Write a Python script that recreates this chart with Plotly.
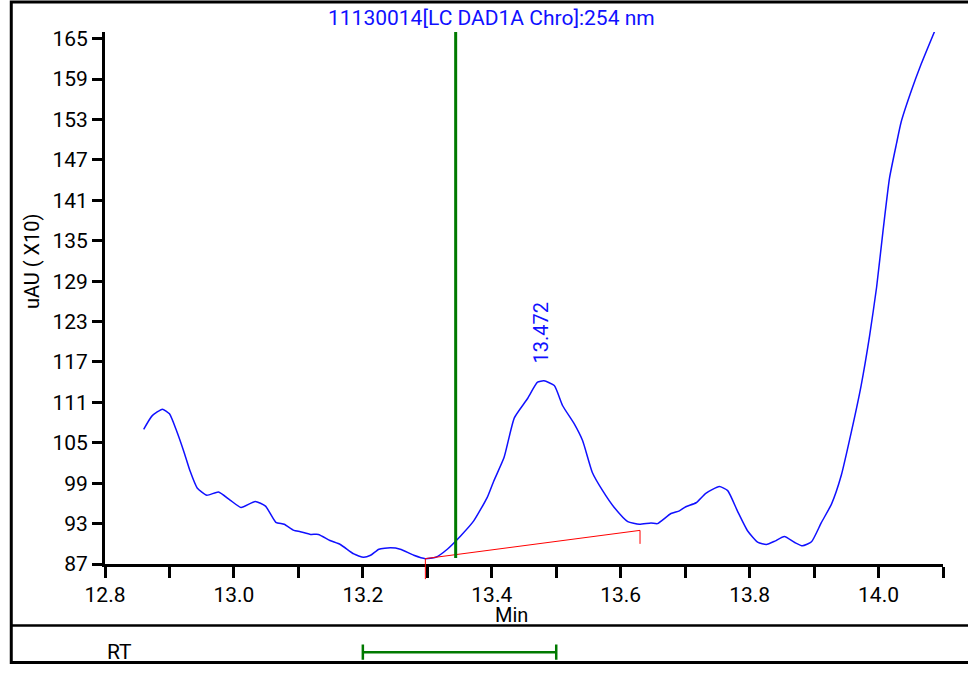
import plotly.graph_objects as go

# ---------------- data ----------------
rt_min = [12.860, 12.873, 12.889, 12.900, 12.911, 12.922, 12.932, 12.943, 12.958, 12.976,
          12.994, 13.011, 13.033, 13.049, 13.065, 13.078, 13.093, 13.103, 13.119, 13.131,
          13.149, 13.165, 13.186, 13.201, 13.212, 13.225, 13.243, 13.258, 13.279, 13.297,
          13.313, 13.331, 13.352, 13.372, 13.393, 13.403, 13.419, 13.435, 13.455, 13.471,
          13.481, 13.497, 13.510, 13.528, 13.541, 13.556, 13.572, 13.590, 13.611, 13.629,
          13.647, 13.657, 13.678, 13.691, 13.701, 13.717, 13.732, 13.753, 13.766, 13.781,
          13.797, 13.813, 13.826, 13.839, 13.854, 13.870, 13.882, 13.896, 13.911, 13.927,
          13.942, 13.958, 13.973, 13.986, 13.997, 14.007, 14.017, 14.028, 14.035, 14.051,
          14.066, 14.087]
intensity = [107.0, 109.0, 110.0, 109.3, 106.8, 103.8, 100.8, 98.3, 97.2, 97.7,
             96.5, 95.4, 96.3, 95.6, 93.2, 92.9, 92.0, 91.8, 91.4, 91.4,
             90.5, 89.9, 88.5, 88.0, 88.3, 89.2, 89.4, 89.2, 88.3, 87.8,
             88.0, 89.2, 91.2, 93.4, 96.9, 99.3, 102.8, 108.7, 111.5, 114.0,
             114.2, 113.5, 110.5, 107.8, 105.3, 100.6, 97.9, 95.4, 93.3, 92.9,
             93.1, 93.0, 94.5, 94.9, 95.5, 96.1, 97.5, 98.5, 97.9, 94.9,
             91.9, 90.2, 89.9, 90.4, 91.1, 90.2, 89.7, 90.3, 93.1, 95.9,
             100.1, 106.7, 113.5, 120.8, 128.1, 136.5, 144.3, 149.5, 152.6, 157.3,
             161.2, 166.1]

peak_rt = 13.472
peak_height = 114.2
peak_label = "13.472"

baseline_x = [13.297, 13.630]
baseline_y = [87.8, 92.0]

cursor_rt = 13.344
cursor_y = [87.9, 166.0]

rt_window = [13.2, 13.5]

x_tickvals = [12.8, 12.9, 13.0, 13.1, 13.2, 13.3, 13.4, 13.5, 13.6, 13.7, 13.8, 13.9, 14.0, 14.1]
x_ticktext = ["12.8", "", "13.0", "", "13.2", "", "13.4", "", "13.6", "", "13.8", "", "14.0", ""]
y_tickvals = [87, 93, 99, 105, 111, 117, 123, 129, 135, 141, 147, 153, 159, 165]
x_range = [12.8, 14.1]
y_range = [87, 166]

title_text = "11130014[LC DAD1A Chro]:254 nm"
y_title = "uAU ( X10)"
x_title = "Min"
rt_text = "RT"

# ---------------- layout geometry ----------------
# target positions are given in screenshot pixels; the rendered page comes out
# vertically compressed (~0.979), so vertical targets are pre-compensated.
W, H = 968, 675
SY, OY = 0.979, 0.5


def fy(py_shot):
    """screenshot y -> figure y (pixels)"""
    return (py_shot - OY) / SY


L = 105
R = W - 942.7
T = fy(31.7)
B = 0.5
plot_w = W - L - R
plot_h = H - T - B


def py_to_paper(py_shot):
    return (H - B - fy(py_shot)) / plot_h


def px_to_paper(px):
    return (px - L) / plot_w


FONT = "Roboto, Arial, sans-serif"
BLUE = "#1010ff"
GREEN = "#007a00"

main_bottom = py_to_paper(563)
rt_top = py_to_paper(624.5)
# RT strip: put its zero line at screenshot y=651
rt_strip_px = rt_top * plot_h
zero_from_bottom = (H - B) - fy(651)
rt_lo = -2 * zero_from_bottom / rt_strip_px
rt_range = [rt_lo, rt_lo + 2]

fig = go.Figure()

fig.add_trace(go.Scatter(x=rt_min, y=intensity, mode="lines",
                         line=dict(color=BLUE, width=1.5, shape="spline", smoothing=0.5),
                         xaxis="x", yaxis="y", showlegend=False, hoverinfo="skip"))

fig.add_trace(go.Scatter(x=baseline_x, y=baseline_y, mode="lines",
                         line=dict(color="red", width=1),
                         xaxis="x", yaxis="y", showlegend=False, hoverinfo="skip"))

fig.add_trace(go.Scatter(x=[cursor_rt, cursor_rt], y=cursor_y, mode="lines",
                         line=dict(color=GREEN, width=3),
                         xaxis="x", yaxis="y", showlegend=False, hoverinfo="skip"))

fig.add_trace(go.Scatter(x=rt_window, y=[0, 0], mode="lines+markers",
                         line=dict(color=GREEN, width=2.5),
                         marker=dict(symbol="line-ns", size=11,
                                     line=dict(color=GREEN, width=2.5)),
                         xaxis="x2", yaxis="y2", showlegend=False, hoverinfo="skip"))

annotations = [
    dict(text=title_text, xref="paper", yref="paper",
         x=px_to_paper(491), y=py_to_paper(18), xanchor="center", yanchor="middle",
         showarrow=False, font=dict(family=FONT, size=21, color=BLUE)),
    dict(text=y_title, xref="paper", yref="paper",
         x=px_to_paper(32), y=py_to_paper(260.5), xanchor="center", yanchor="middle",
         textangle=-90, showarrow=False, font=dict(family=FONT, size=20, color="black")),
    dict(text=x_title, xref="paper", yref="paper",
         x=px_to_paper(511.7), y=py_to_paper(614), xanchor="center", yanchor="middle",
         showarrow=False, font=dict(family=FONT, size=20, color="black")),
    dict(text=peak_label, xref="x", yref="y", x=peak_rt, y=peak_height,
         xanchor="center", yanchor="bottom", xshift=3, yshift=15,
         textangle=-90, showarrow=False, font=dict(family=FONT, size=20, color=BLUE)),
    dict(text=rt_text, xref="paper", yref="y2", x=0, y=0,
         xanchor="left", yanchor="middle", showarrow=False,
         font=dict(family=FONT, size=21, color="black")),
]
# integration drop ticks (red) at the baseline ends
for bx, by, length in zip(baseline_x, baseline_y, [22, 15]):
    annotations.append(dict(text="", xref="x", yref="y", x=bx, y=by,
                            ax=0, ay=length, showarrow=True, arrowhead=0,
                            arrowwidth=1, arrowcolor="red", standoff=0))

shapes = [
    # outer frame (bottom edge sits at the lowest drawable row)
    dict(type="rect", xref="paper", yref="paper",
         x0=px_to_paper(11.3), x1=px_to_paper(1000), y0=-0.5 / plot_h, y1=py_to_paper(1.7),
         line=dict(color="black", width=3), fillcolor="rgba(0,0,0,0)", layer="below"),
    # divider
    dict(type="line", xref="paper", yref="paper",
         x0=px_to_paper(11.3), x1=px_to_paper(1000), y0=rt_top, y1=rt_top,
         line=dict(color="black", width=2.5)),
]

fig.update_layout(
    width=W, height=H, autosize=False,
    margin=dict(l=L, r=R, t=T, b=B, pad=0),
    paper_bgcolor="white", plot_bgcolor="white",
    font=dict(family=FONT, size=21, color="black"),
    showlegend=False,
    xaxis=dict(range=x_range, domain=[0, 1], anchor="y",
               tickmode="array", tickvals=x_tickvals, ticktext=x_ticktext,
               showline=True, linecolor="black", linewidth=3,
               ticks="outside", ticklen=11, tickwidth=2.5, tickcolor="black",
               ticklabelstandoff=-1,
               showgrid=False, zeroline=False,
               tickfont=dict(family=FONT, size=21, color="black")),
    yaxis=dict(range=y_range, domain=[main_bottom, 1], anchor="x",
               tickmode="array", tickvals=y_tickvals,
               showline=True, linecolor="black", linewidth=3,
               ticks="outside", ticklen=10, tickwidth=2.5, tickcolor="black",
               showgrid=False, zeroline=False,
               tickfont=dict(family=FONT, size=21, color="black")),
    xaxis2=dict(matches="x", anchor="y2", domain=[0, 1], visible=False,
                showgrid=False, zeroline=False),
    yaxis2=dict(range=rt_range, domain=[0, rt_top], anchor="x2", visible=False,
                showgrid=False, zeroline=False),
    annotations=annotations,
    shapes=shapes,
)

fig.write_html("out.html",
               config={"responsive": False, "displayModeBar": False},
               post_script="document.body.style.margin='0';document.body.style.overflow='hidden';")
